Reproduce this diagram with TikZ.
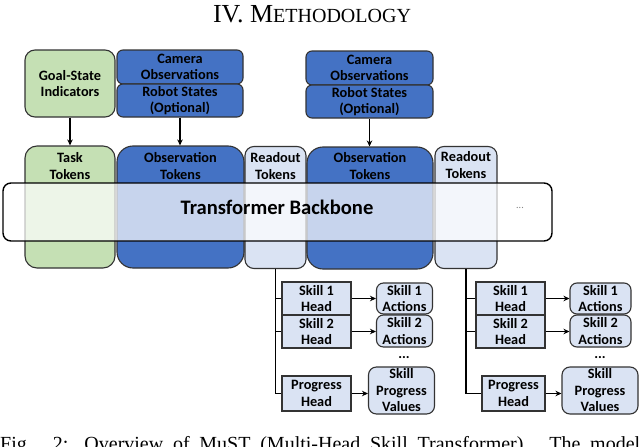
\documentclass[tikz,border=0pt]{standalone}
\usepackage{fontspec}
\setmainfont{Liberation Serif}
\newfontfamily\calib{Carlito}
\usetikzlibrary{arrows.meta}
\definecolor{gfill}{HTML}{C5E0B4}
\definecolor{bfill}{HTML}{4472C4}
\definecolor{lfill}{HTML}{DAE3F3}
\definecolor{edgec}{HTML}{333333}
\tikzset{
  lbl/.style={align=center, inner sep=0pt, font=\calib\bfseries\fontsize{14.3}{16.5}\selectfont},
  dotlbl/.style={inner sep=0pt, text height=2pt, text depth=0pt, font=\calib\bfseries\fontsize{14.3}{16.5}\selectfont},
  boxx/.style={draw=edgec, line width=1.1pt, inner sep=0pt},
  gbox/.style={boxx, fill=gfill},
  bbox/.style={boxx, fill=bfill},
  lbox/.style={boxx, fill=lfill},
  arr/.style={-{Stealth[length=6pt,width=5.5pt]}, line width=1.3pt, black},
  wire/.style={line width=1.3pt, black},
}
\begin{document}
\begin{tikzpicture}[x=1pt,y=-1pt]
\useasboundingbox (0,0) rectangle (640,447);
% heading
\node[anchor=base, inner sep=0pt] (head) at (312,23) {{\fontsize{26}{30}\selectfont IV.\ M}{\fontsize{20}{24}\selectfont ETHODOLOGY}};
% caption (cut off by the lower edge, as in the reference)
\node[anchor=base west, inner sep=0pt] (cap) at (0,450) {\fontsize{20}{24}\selectfont\makebox[640pt][s]{Fig. 2: Overview of MuST (Multi-Head Skill Transformer). The model}};

% inputs
\node[gbox, rounded corners=10pt, minimum width=90pt, minimum height=67pt] (gsi) at (70,83.5) {};
\node[lbl] (gsit) at (gsi) {Goal-State\\Indicators};
\node[bbox, rounded corners=6pt, minimum width=126pt, minimum height=34pt] (camL) at (180,67) {};
\node[lbl] (camLt) at (camL) {Camera\\Observations};
\node[bbox, rounded corners=6pt, minimum width=126pt, minimum height=33pt] (robL) at (180,100.5) {};
\node[lbl] (robLt) at (robL) {Robot States\\(Optional)};
\node[bbox, rounded corners=6pt, minimum width=127pt, minimum height=34pt] (camR) at (369.5,68) {};
\node[lbl] (camRt) at (camR) {Camera\\Observations};
\node[bbox, rounded corners=6pt, minimum width=127pt, minimum height=33pt] (robR) at (369.5,101.5) {};
\node[lbl] (robRt) at (robR) {Robot States\\(Optional)};

% tokens
\node[gbox, rounded corners=12pt, minimum width=90pt, minimum height=122pt] (task) at (70,207) {};
\node[bbox, rounded corners=16pt, minimum width=127pt, minimum height=122pt] (obsL) at (180.5,207) {};
\node[lbox, rounded corners=9pt, minimum width=61pt, minimum height=122pt] (rdL) at (275.5,207.5) {};
\node[bbox, rounded corners=16pt, minimum width=126pt, minimum height=122pt] (obsR) at (370,208) {};
\node[lbox, rounded corners=9pt, minimum width=62pt, minimum height=122pt] (rdR) at (466,207.5) {};

\node[lbl] (taskt) at (70,166) {Task\\Tokens};
\node[lbl] (obsLt) at (180.5,166) {Observation\\Tokens};
\node[lbl] (rdLt) at (275.5,166) {Readout\\Tokens};
\node[lbl] (obsRt) at (370,166) {Observation\\Tokens};
\node[lbl] (rdRt) at (466,165) {Readout\\Tokens};

% backbone
\node[draw=black, line width=1.4pt, fill=white, fill opacity=0.7, text opacity=1, rounded corners=8pt, minimum width=549pt, minimum height=58pt, inner sep=0pt] (bb) at (277.5,212) {};
\node[inner sep=0pt, font=\calib\bfseries\fontsize{20.6}{24}\selectfont] (bbt) at (277,207) {Transformer Backbone};
\node[inner sep=0pt, text=gray, font=\calib\fontsize{10}{12}\selectfont] (dots0) at (520,208) {...};

% arrows into tokens
\draw[arr] (gsi.south) -- (gsi.south |- task.north);
\draw[arr] (robL.south) -- (robL.south |- obsL.north);
\draw[arr] (robR.south) -- (robR.south |- obsR.north);

% heads left
\node[lbox, minimum width=69pt, minimum height=33pt] (s1L) at (316.5,298.5) {};
\node[lbl] (s1Lt) at (s1L) {Skill 1\\Head};
\node[lbox, minimum width=69pt, minimum height=33pt] (s2L) at (316.5,331.5) {};
\node[lbl] (s2Lt) at (s2L) {Skill 2\\Head};
\node[lbox, minimum width=69pt, minimum height=35pt] (pL) at (316.5,393.5) {};
\node[lbl] (pLt) at (pL) {Progress\\Head};
\node[lbox, rounded corners=7pt, minimum width=56pt, minimum height=31pt] (a1L) at (404.5,298.5) {};
\node[lbl] (a1Lt) at (a1L) {Skill 1\\Actions};
\node[lbox, rounded corners=7pt, minimum width=56pt, minimum height=32pt] (a2L) at (404.5,331) {};
\node[lbl] (a2Lt) at (a2L) {Skill 2\\Actions};
\node[dotlbl] (dotsL) at (404,357) {...};
\node[lbox, rounded corners=8pt, minimum width=66pt, minimum height=47pt] (vL) at (401.5,390.5) {};
\node[lbl] (vLt) at (vL) {Skill\\Progress\\Values};

% heads right
\node[lbox, minimum width=69pt, minimum height=33pt] (s1R) at (510.5,298.5) {};
\node[lbl] (s1Rt) at (s1R) {Skill 1\\Head};
\node[lbox, minimum width=69pt, minimum height=33pt] (s2R) at (510.5,331.5) {};
\node[lbl] (s2Rt) at (s2R) {Skill 2\\Head};
\node[lbox, minimum width=63pt, minimum height=35pt] (pR) at (513.5,393.5) {};
\node[lbl] (pRt) at (pR) {Progress\\Head};
\node[lbox, rounded corners=7pt, minimum width=61pt, minimum height=31pt] (a1R) at (600.5,298.5) {};
\node[lbl] (a1Rt) at (a1R) {Skill 1\\Actions};
\node[lbox, rounded corners=7pt, minimum width=61pt, minimum height=32pt] (a2R) at (600.5,331) {};
\node[lbl] (a2Rt) at (a2R) {Skill 2\\Actions};
\node[dotlbl] (dotsR) at (600,357) {...};
\node[lbox, rounded corners=8pt, minimum width=76pt, minimum height=47pt] (vR) at (600,390.5) {};
\node[lbl] (vRt) at (vR) {Skill\\Progress\\Values};

% wiring left
\draw[wire] (rdL.south) -- (rdL.south |- pL.west) -- (pL.west);
\draw[wire] (rdL.south |- s1L.west) -- (s1L.west);
\draw[wire] (rdL.south |- s2L.west) -- (s2L.west);
\draw[arr] (s1L.east) -- (s1L.east -| a1L.west);
\draw[arr] (s2L.east) -- (s2L.east -| a2L.west);
\draw[arr] (pL.east) -- (pL.east -| vL.west);
% wiring right
\draw[wire] (rdR.south) -- (rdR.south |- pR.west) -- (pR.west);
\draw[wire] (rdR.south |- s1R.west) -- (s1R.west);
\draw[wire] (rdR.south |- s2R.west) -- (s2R.west);
\draw[arr] (s1R.east) -- (s1R.east -| a1R.west);
\draw[arr] (s2R.east) -- (s2R.east -| a2R.west);
\draw[arr] (pR.east) -- (pR.east -| vR.west);
\end{tikzpicture}
\end{document}
